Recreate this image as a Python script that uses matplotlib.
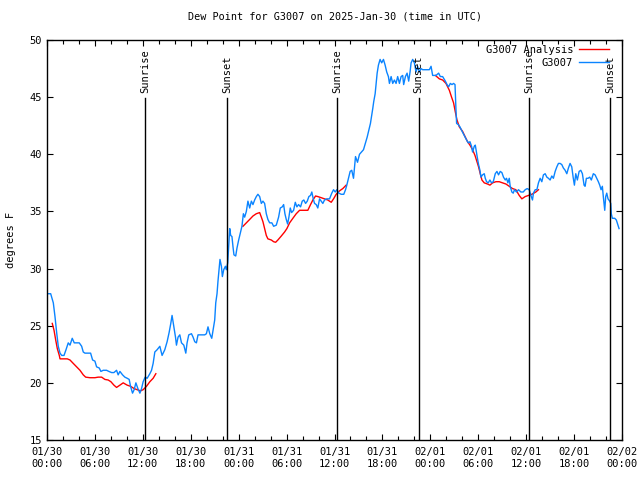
import numpy as np
import pandas as pd
import matplotlib
matplotlib.use('Agg')
import matplotlib.pyplot as plt
import matplotlib.dates as mdates

start = pd.Timestamp('2025-01-30 00:00')

# station obs: hours after start, dew point [F]
obs_hours = [0.04, 0.46, 0.79, 1.0, 1.21, 1.41, 1.63, 1.84, 2.13, 2.38, 2.66, 2.88, 3.16, 3.41, 3.71, 4.04,
             4.34, 4.54, 4.75, 5.16, 5.46, 5.71, 6.0, 6.21, 6.54, 6.75, 7.04, 7.46, 7.75, 8.09, 8.38, 8.71,
             8.91, 9.13, 9.46, 9.75, 10.04, 10.29, 10.46, 10.71, 10.91, 11.13, 11.38, 11.63, 11.84, 12.04,
             12.29, 12.54, 12.88, 13.09, 13.29, 13.5, 13.79, 14.13, 14.41, 14.75, 15.04, 15.29, 15.5, 15.66,
             15.88, 16.09, 16.21, 16.41, 16.63, 16.84, 17.13, 17.38, 17.54, 17.75, 18.09, 18.29, 18.5, 18.71,
             18.91, 19.34, 19.75, 19.96, 20.16, 20.38, 20.63, 20.79, 21.0, 21.13, 21.29, 21.41, 21.54, 21.66,
             21.84, 21.96, 22.13, 22.34, 22.46, 22.63, 22.75, 22.88, 23.0, 23.16, 23.29, 23.41, 23.63, 23.79,
             24.0, 24.21, 24.41, 24.59, 24.75, 24.96, 25.16, 25.38, 25.59, 25.79, 26.0, 26.21, 26.41, 26.63,
             26.84, 27.04, 27.25, 27.46, 27.66, 27.88, 28.16, 28.38, 28.71, 29.0, 29.21, 29.46, 29.63, 29.79,
             29.96, 30.13, 30.29, 30.46, 30.63, 30.88, 31.09, 31.29, 31.5, 31.75, 31.96, 32.16, 32.38, 32.59,
             32.79, 33.0, 33.16, 33.34, 33.5, 33.71, 33.91, 34.13, 34.34, 34.54, 34.75, 35.04, 35.38, 35.66,
             35.88, 36.09, 36.29, 36.54, 36.84, 37.16, 37.38, 37.54, 37.75, 37.96, 38.16, 38.38, 38.63, 38.88,
             39.13, 39.38, 39.63, 39.88, 40.09, 40.29, 40.5, 40.66, 40.79, 40.91, 41.09, 41.21, 41.34, 41.5,
             41.71, 41.91, 42.13, 42.34, 42.54, 42.75, 42.88, 43.09, 43.29, 43.5, 43.71, 43.91, 44.13, 44.34,
             44.54, 44.66, 44.88, 45.09, 45.29, 45.46, 45.59, 45.79, 46.0, 46.21, 46.41, 46.63, 46.84, 47.04,
             47.46, 47.88, 48.09, 48.29, 48.71, 49.04, 49.25, 49.54, 49.88, 50.09, 50.29, 50.5, 50.71, 50.91,
             51.09, 51.21, 51.29, 51.5, 51.71, 51.91, 52.13, 52.34, 52.54, 52.75, 52.96, 53.16, 53.29, 53.5,
             53.63, 53.79, 53.91, 54.04, 54.21, 54.34, 54.54, 54.75, 54.88, 55.04, 55.25, 55.46, 55.66, 55.88,
             56.13, 56.34, 56.54, 56.75, 56.96, 57.16, 57.38, 57.54, 57.71, 57.88, 58.0, 58.21, 58.38, 58.54,
             58.79, 59.04, 59.34, 59.63, 59.88, 60.13, 60.38, 60.59, 60.79, 60.91, 61.13, 61.34, 61.54, 61.75,
             61.96, 62.16, 62.38, 62.59, 62.79, 63.0, 63.21, 63.41, 63.63, 63.84, 64.04, 64.25, 64.46, 64.66,
             64.88, 65.09, 65.29, 65.5, 65.71, 65.88, 66.04, 66.21, 66.41, 66.63, 66.84, 67.04, 67.25, 67.38,
             67.54, 67.75, 67.96, 68.16, 68.41, 68.63, 68.84, 69.04, 69.21, 69.38, 69.54, 69.66, 69.84, 69.96,
             70.09, 70.25, 70.46, 70.59, 70.66, 70.79, 71.09, 71.29, 71.5, 71.63]
obs_dewp = [27.8, 27.8, 27.0, 25.8, 24.4, 23.2, 22.6, 22.4, 22.4, 22.9, 23.5, 23.3, 23.9, 23.5, 23.5, 23.5,
            23.2, 22.7, 22.6, 22.6, 22.6, 22.0, 21.9, 21.4, 21.3, 21.0, 21.1, 21.1, 21.0, 20.9, 20.9, 21.1,
            20.7, 21.0, 20.7, 20.5, 20.4, 20.3, 19.7, 19.1, 19.4, 20.0, 19.5, 19.1, 19.5, 20.1,
            20.5, 20.4, 20.8, 21.1, 21.7, 22.7, 22.9, 23.2, 22.4, 22.9, 23.6, 24.4, 25.2, 25.9,
            24.9, 24.0, 23.3, 24.0, 24.2, 23.5, 23.3, 22.6, 23.5, 24.2, 24.3, 24.0, 23.6, 23.5,
            24.2, 24.2, 24.2, 24.3, 24.9, 24.3, 23.9, 24.6, 25.5, 27.0, 27.8, 28.9, 29.9, 30.8,
            30.2, 29.3, 29.9, 30.2, 29.9, 30.5, 31.9, 33.5, 32.9, 32.8, 31.9, 31.2, 31.1, 31.8,
            32.5, 33.1, 33.7, 34.8, 34.5, 35.0, 35.9, 35.3, 35.9, 35.6, 36.0, 36.3, 36.5, 36.3,
            35.7, 35.9, 35.7, 34.8, 34.3, 34.0, 34.0, 33.7, 33.8, 34.5, 35.3, 35.4, 35.6, 34.8,
            34.3, 33.9, 34.5, 35.3, 34.9, 35.1, 35.8, 35.4, 35.6, 35.4, 35.9, 36.0, 35.7, 35.9,
            36.3, 36.4, 36.7, 36.1, 35.7, 35.6, 35.3, 36.1, 35.9, 35.7, 36.0, 36.1, 36.1, 36.6,
            36.9, 36.7, 36.9, 36.6, 36.5, 36.5, 36.9, 37.3, 37.9, 38.5, 38.6, 37.9, 39.8, 39.3,
            40.0, 40.2, 40.4, 41.0, 41.5, 42.1, 42.7, 43.4, 44.0, 44.6, 45.3, 46.2, 47.1, 47.8,
            48.3, 48.0, 48.3, 47.8, 47.2, 46.8, 46.2, 46.8, 46.2, 46.5, 46.2, 46.8, 46.2, 46.8,
            46.9, 46.1, 46.8, 47.1, 46.4, 47.2, 48.0, 48.3, 48.0, 47.2, 47.7, 47.2, 47.5, 47.4,
            47.4, 47.4, 47.7, 46.9, 46.9, 47.1, 46.8, 46.8, 46.4, 46.1, 45.9, 46.2, 46.1, 46.2,
            46.1, 43.9, 42.7, 42.6, 42.4, 42.1, 41.8, 41.5, 41.25, 41.0, 41.1, 40.7, 40.2, 40.7,
            40.8, 40.1, 39.6, 39.1, 38.6, 38.0, 38.2, 38.3, 37.9, 37.6, 37.5, 37.75, 37.5, 37.6,
            38.3, 38.5, 38.2, 38.5, 38.4, 38.0, 37.75, 37.9, 37.5, 37.9, 37.2, 36.7, 36.6, 36.9,
            36.7, 36.9, 36.7, 36.7, 36.9, 37.0, 36.9, 36.4, 36.0, 36.6, 36.9, 36.9, 37.5, 37.9,
            37.6, 38.2, 38.3, 38.0, 37.9, 37.75, 38.1, 37.9, 38.5, 38.9, 39.2, 39.2, 39.1, 38.8,
            38.6, 38.3, 38.8, 39.2, 38.9, 38.0, 37.3, 38.3, 37.75, 38.5, 38.6, 38.3, 37.3, 37.2,
            37.9, 37.9, 38.0, 37.75, 38.3, 38.2, 37.9, 37.6, 37.3, 36.9, 37.2, 36.3, 35.1, 36.3,
            36.6, 36.1, 35.9, 35.7, 34.8, 34.4, 34.4, 34.25, 33.8, 33.5]

# analysis: nan = no analysis
ana_hours = [0.66, 0.88, 1.09, 1.29, 1.54, 1.63, 2.04, 2.54, 2.88, 3.29, 3.71, 4.13, 4.54, 4.84, 5.38, 6.0,
             6.41, 6.84, 7.25, 7.66, 8.0, 8.38, 8.71, 9.13, 9.54, 10.04, 10.46, 10.91, 11.29, 11.71, 12.04,
             12.46, 12.88, 13.29, 13.63, 19.0,
             24.54, 24.96, 25.38, 25.79, 26.21, 26.63, 26.84, 27.04, 27.25, 27.46, 27.66, 28.09, 28.38, 28.63,
             28.91, 29.34, 29.75, 30.04, 30.38, 30.79, 31.21, 31.63, 32.04, 32.66, 33.0, 33.29, 33.63, 33.91,
             34.34, 34.75, 35.16, 35.59, 35.88, 36.21, 36.63, 37.04, 37.46, 43.0,
             48.63, 49.13, 49.54, 49.96, 50.38, 50.66, 50.91, 51.13, 51.34, 51.63, 52.04, 52.38, 52.66, 52.96,
             53.29, 53.59, 53.84, 54.04, 54.25, 54.46, 54.75, 55.16, 55.46, 55.79, 56.21, 56.63, 57.04, 57.46,
             57.88, 58.29, 58.71, 59.13, 59.46, 59.88, 60.29, 60.71, 61.21, 61.54]
ana_dewp = [25.2, 24.6, 23.75, 23.0, 22.4, 22.1, 22.1, 22.1, 22.0, 21.7, 21.4, 21.1, 20.7, 20.5, 20.45, 20.45,
            20.5, 20.5, 20.3, 20.25, 20.1, 19.8, 19.6, 19.8, 20.0, 19.8, 19.7, 19.5, 19.4, 19.3, 19.4,
            19.7, 20.1, 20.4, 20.8, np.nan,
            33.7, 34.0, 34.3, 34.6, 34.8, 34.9, 34.5, 34.1, 33.5, 32.9, 32.6, 32.5, 32.35, 32.3,
            32.5, 32.85, 33.2, 33.5, 34.0, 34.4, 34.8, 35.1, 35.1, 35.1, 35.6, 36.0, 36.35, 36.3,
            36.2, 36.1, 36.0, 35.8, 36.1, 36.5, 36.8, 37.0, 37.3, np.nan,
            46.9, 46.6, 46.5, 46.2, 45.6, 45.0, 44.5, 43.7, 43.0, 42.4, 42.0, 41.5, 41.1, 40.8,
            40.4, 39.9, 39.35, 38.9, 38.3, 37.75, 37.5, 37.4, 37.3, 37.5, 37.6, 37.6, 37.5, 37.4,
            37.2, 37.0, 36.9, 36.4, 36.1, 36.3, 36.4, 36.5, 36.7, 36.9]

sunrise = ['2025-01-30 12:20', '2025-01-31 12:20', '2025-02-01 12:20']
sunset = ['2025-01-30 22:32', '2025-01-31 22:32', '2025-02-01 22:32']

obs_t = start + pd.to_timedelta(obs_hours, unit='h')
ana_t = start + pd.to_timedelta(ana_hours, unit='h')

plt.rcParams['font.family'] = 'DejaVu Sans Mono'
plt.rcParams['font.size'] = 7

fig = plt.figure(figsize=(6.4, 4.8), dpi=100)
ax = fig.add_axes([47/640, 40/480, 575/640, 400/480])

ax.plot(ana_t, ana_dewp, color='#ff0000', lw=1.0, label='G3007 Analysis')
ax.plot(obs_t, obs_dewp, color='#0a84ff', lw=1.0, label='G3007')

# sunrise / sunset markers
for t in sunrise:
    ax.axvline(pd.Timestamp(t), ymin=0, ymax=0.854, color='black', lw=1.0)
    ax.text(pd.Timestamp(t), 45.35, 'Sunrise', rotation=90, ha='center', va='bottom', fontsize=7.5)
for t in sunset:
    ax.axvline(pd.Timestamp(t), ymin=0, ymax=0.854, color='black', lw=1.0)
    ax.text(pd.Timestamp(t), 45.35, 'Sunset', rotation=90, ha='center', va='bottom', fontsize=7.5)

ax.set_xlim(start, start + pd.Timedelta(hours=72))
ax.set_ylim(15, 50)
ax.set_yticks(np.arange(15, 51, 5))
ax.xaxis.set_major_locator(mdates.HourLocator(byhour=range(0, 24, 6)))
ax.xaxis.set_minor_locator(mdates.HourLocator(interval=2))
ax.xaxis.set_major_formatter(mdates.DateFormatter('%m/%d\n%H:%M'))
ax.tick_params(which='both', direction='in', top=True, right=True, labelsize=7.5)
ax.tick_params(which='major', length=4.5, width=0.8)
ax.tick_params(which='minor', length=3, width=0.8)
ax.tick_params(axis='x', pad=5)
for s in ax.spines.values():
    s.set_linewidth(1.0)

ax.set_ylabel('degrees F', fontsize=7.5, labelpad=10)
ax.set_title('Dew Point for G3007 on 2025-Jan-30 (time in UTC)', fontsize=7.3, pad=15)

ax.legend(loc='upper right', bbox_to_anchor=(0.984, 0.999), frameon=False, markerfirst=False,
          handlelength=2.8, fontsize=7.5, borderaxespad=0, labelspacing=0.3, handletextpad=0.6)

plt.savefig('out.png', dpi=100)
